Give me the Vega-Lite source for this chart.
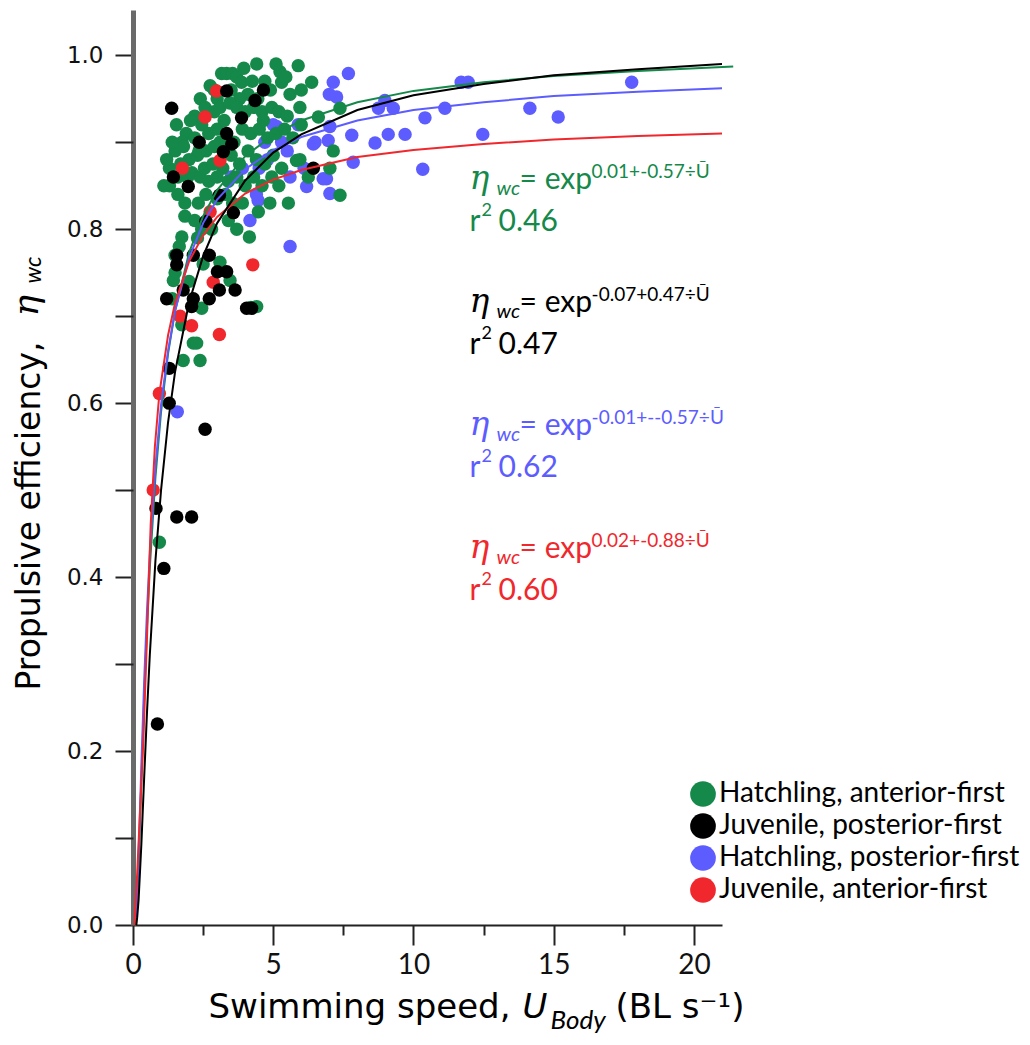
{
  "$schema": "https://vega.github.io/schema/vega-lite/v6.json",
  "autosize": "none",
  "width": 589,
  "height": 915,
  "padding": {"left": 133, "top": 10, "right": 308, "bottom": 120},
  "background": "white",
  "config": {"view": {"stroke": null}, "font": "Lato"},
  "datasets": {
    "pts": [
      {"group": "Hatchling, posterior-first", "x": 1.58, "y": 0.59},
      {"group": "Hatchling, posterior-first", "x": 4.17, "y": 0.81},
      {"group": "Hatchling, posterior-first", "x": 5.6, "y": 0.78},
      {"group": "Hatchling, posterior-first", "x": 4.46, "y": 0.833},
      {"group": "Hatchling, posterior-first", "x": 6.19, "y": 0.849},
      {"group": "Hatchling, posterior-first", "x": 7.02, "y": 0.841},
      {"group": "Hatchling, posterior-first", "x": 6.9, "y": 0.858},
      {"group": "Hatchling, posterior-first", "x": 6.78, "y": 0.858},
      {"group": "Hatchling, posterior-first", "x": 7.85, "y": 0.877},
      {"group": "Hatchling, posterior-first", "x": 5.89, "y": 0.92},
      {"group": "Hatchling, posterior-first", "x": 6.96, "y": 0.902},
      {"group": "Hatchling, posterior-first", "x": 7.8, "y": 0.908},
      {"group": "Hatchling, posterior-first", "x": 6.43, "y": 0.898},
      {"group": "Hatchling, posterior-first", "x": 6.49, "y": 0.9},
      {"group": "Hatchling, posterior-first", "x": 7.02, "y": 0.918},
      {"group": "Hatchling, posterior-first", "x": 5.12, "y": 0.918},
      {"group": "Hatchling, posterior-first", "x": 7.68, "y": 0.979},
      {"group": "Hatchling, posterior-first", "x": 7.14, "y": 0.969},
      {"group": "Hatchling, posterior-first", "x": 7.26, "y": 0.952},
      {"group": "Hatchling, posterior-first", "x": 7.0, "y": 0.955},
      {"group": "Hatchling, posterior-first", "x": 8.98, "y": 0.948},
      {"group": "Hatchling, posterior-first", "x": 8.75, "y": 0.939},
      {"group": "Hatchling, posterior-first", "x": 9.28, "y": 0.939},
      {"group": "Hatchling, posterior-first", "x": 11.12, "y": 0.939},
      {"group": "Hatchling, posterior-first", "x": 11.7, "y": 0.969},
      {"group": "Hatchling, posterior-first", "x": 11.95, "y": 0.969},
      {"group": "Hatchling, posterior-first", "x": 17.78, "y": 0.969},
      {"group": "Hatchling, posterior-first", "x": 14.15, "y": 0.939},
      {"group": "Hatchling, posterior-first", "x": 15.16, "y": 0.929},
      {"group": "Hatchling, posterior-first", "x": 10.41, "y": 0.928},
      {"group": "Hatchling, posterior-first", "x": 9.1, "y": 0.909},
      {"group": "Hatchling, posterior-first", "x": 9.7, "y": 0.909},
      {"group": "Hatchling, posterior-first", "x": 8.63, "y": 0.899},
      {"group": "Hatchling, posterior-first", "x": 12.47, "y": 0.909},
      {"group": "Hatchling, posterior-first", "x": 10.33, "y": 0.869},
      {"group": "Hatchling, posterior-first", "x": 4.5, "y": 0.87},
      {"group": "Hatchling, posterior-first", "x": 4.8, "y": 0.88},
      {"group": "Hatchling, posterior-first", "x": 5.3, "y": 0.9},
      {"group": "Hatchling, posterior-first", "x": 5.0, "y": 0.92},
      {"group": "Hatchling, posterior-first", "x": 4.7, "y": 0.9},
      {"group": "Hatchling, posterior-first", "x": 3.9, "y": 0.87},
      {"group": "Hatchling, posterior-first", "x": 4.4, "y": 0.84},
      {"group": "Hatchling, posterior-first", "x": 5.6, "y": 0.86},
      {"group": "Hatchling, posterior-first", "x": 3.5, "y": 0.86},
      {"group": "Hatchling, posterior-first", "x": 5.5, "y": 0.89},
      {"group": "Hatchling, posterior-first", "x": 6.1, "y": 0.87},
      {"group": "Hatchling, anterior-first", "x": 3.16, "y": 0.979},
      {"group": "Hatchling, anterior-first", "x": 3.34, "y": 0.979},
      {"group": "Hatchling, anterior-first", "x": 3.55, "y": 0.979},
      {"group": "Hatchling, anterior-first", "x": 3.7, "y": 0.975},
      {"group": "Hatchling, anterior-first", "x": 4.41, "y": 0.99},
      {"group": "Hatchling, anterior-first", "x": 5.24, "y": 0.981},
      {"group": "Hatchling, anterior-first", "x": 5.89, "y": 0.988},
      {"group": "Hatchling, anterior-first", "x": 5.3, "y": 0.969},
      {"group": "Hatchling, anterior-first", "x": 3.87, "y": 0.969},
      {"group": "Hatchling, anterior-first", "x": 6.37, "y": 0.969},
      {"group": "Hatchling, anterior-first", "x": 2.9, "y": 0.96},
      {"group": "Hatchling, anterior-first", "x": 4.1, "y": 0.955},
      {"group": "Hatchling, anterior-first", "x": 4.9, "y": 0.96},
      {"group": "Hatchling, anterior-first", "x": 5.6, "y": 0.955},
      {"group": "Hatchling, anterior-first", "x": 3.0, "y": 0.95},
      {"group": "Hatchling, anterior-first", "x": 4.45, "y": 0.95},
      {"group": "Hatchling, anterior-first", "x": 2.4, "y": 0.95},
      {"group": "Hatchling, anterior-first", "x": 2.75, "y": 0.965},
      {"group": "Hatchling, anterior-first", "x": 3.5, "y": 0.96},
      {"group": "Hatchling, anterior-first", "x": 3.95, "y": 0.985},
      {"group": "Hatchling, anterior-first", "x": 4.7, "y": 0.97},
      {"group": "Hatchling, anterior-first", "x": 5.1, "y": 0.99},
      {"group": "Hatchling, anterior-first", "x": 5.45, "y": 0.975},
      {"group": "Hatchling, anterior-first", "x": 6.0, "y": 0.96},
      {"group": "Hatchling, anterior-first", "x": 4.25, "y": 0.97},
      {"group": "Hatchling, anterior-first", "x": 3.8, "y": 0.95},
      {"group": "Hatchling, anterior-first", "x": 2.57, "y": 0.94},
      {"group": "Hatchling, anterior-first", "x": 2.2, "y": 0.93},
      {"group": "Hatchling, anterior-first", "x": 2.45, "y": 0.92},
      {"group": "Hatchling, anterior-first", "x": 2.9, "y": 0.935},
      {"group": "Hatchling, anterior-first", "x": 3.1, "y": 0.94},
      {"group": "Hatchling, anterior-first", "x": 3.45, "y": 0.945},
      {"group": "Hatchling, anterior-first", "x": 3.7, "y": 0.94},
      {"group": "Hatchling, anterior-first", "x": 4.0, "y": 0.935},
      {"group": "Hatchling, anterior-first", "x": 4.3, "y": 0.94},
      {"group": "Hatchling, anterior-first", "x": 4.6, "y": 0.935},
      {"group": "Hatchling, anterior-first", "x": 4.95, "y": 0.94},
      {"group": "Hatchling, anterior-first", "x": 5.2, "y": 0.935},
      {"group": "Hatchling, anterior-first", "x": 5.5, "y": 0.93},
      {"group": "Hatchling, anterior-first", "x": 5.95, "y": 0.94},
      {"group": "Hatchling, anterior-first", "x": 6.61, "y": 0.929},
      {"group": "Hatchling, anterior-first", "x": 7.38, "y": 0.939},
      {"group": "Hatchling, anterior-first", "x": 1.9, "y": 0.91},
      {"group": "Hatchling, anterior-first", "x": 2.2, "y": 0.905},
      {"group": "Hatchling, anterior-first", "x": 2.7, "y": 0.91},
      {"group": "Hatchling, anterior-first", "x": 3.0, "y": 0.915},
      {"group": "Hatchling, anterior-first", "x": 3.9, "y": 0.915},
      {"group": "Hatchling, anterior-first", "x": 4.2, "y": 0.91},
      {"group": "Hatchling, anterior-first", "x": 4.5, "y": 0.915},
      {"group": "Hatchling, anterior-first", "x": 4.8, "y": 0.905},
      {"group": "Hatchling, anterior-first", "x": 5.1, "y": 0.91},
      {"group": "Hatchling, anterior-first", "x": 5.4, "y": 0.915},
      {"group": "Hatchling, anterior-first", "x": 5.7, "y": 0.905},
      {"group": "Hatchling, anterior-first", "x": 6.0, "y": 0.92},
      {"group": "Hatchling, anterior-first", "x": 2.05, "y": 0.925},
      {"group": "Hatchling, anterior-first", "x": 1.75, "y": 0.9},
      {"group": "Hatchling, anterior-first", "x": 4.65, "y": 0.925},
      {"group": "Hatchling, anterior-first", "x": 3.25, "y": 0.925},
      {"group": "Hatchling, anterior-first", "x": 1.55, "y": 0.92},
      {"group": "Hatchling, anterior-first", "x": 3.6, "y": 0.9},
      {"group": "Hatchling, anterior-first", "x": 3.1, "y": 0.9},
      {"group": "Hatchling, anterior-first", "x": 1.5, "y": 0.89},
      {"group": "Hatchling, anterior-first", "x": 1.8, "y": 0.895},
      {"group": "Hatchling, anterior-first", "x": 2.0, "y": 0.88},
      {"group": "Hatchling, anterior-first", "x": 2.3, "y": 0.885},
      {"group": "Hatchling, anterior-first", "x": 2.6, "y": 0.89},
      {"group": "Hatchling, anterior-first", "x": 2.9, "y": 0.895},
      {"group": "Hatchling, anterior-first", "x": 3.2, "y": 0.87},
      {"group": "Hatchling, anterior-first", "x": 3.5, "y": 0.885},
      {"group": "Hatchling, anterior-first", "x": 3.8, "y": 0.875},
      {"group": "Hatchling, anterior-first", "x": 4.1, "y": 0.89},
      {"group": "Hatchling, anterior-first", "x": 4.4, "y": 0.88},
      {"group": "Hatchling, anterior-first", "x": 4.7, "y": 0.875},
      {"group": "Hatchling, anterior-first", "x": 5.0, "y": 0.885},
      {"group": "Hatchling, anterior-first", "x": 5.3, "y": 0.87},
      {"group": "Hatchling, anterior-first", "x": 5.95, "y": 0.88},
      {"group": "Hatchling, anterior-first", "x": 7.14, "y": 0.89},
      {"group": "Hatchling, anterior-first", "x": 1.3, "y": 0.87},
      {"group": "Hatchling, anterior-first", "x": 1.6, "y": 0.86},
      {"group": "Hatchling, anterior-first", "x": 1.7, "y": 0.875},
      {"group": "Hatchling, anterior-first", "x": 1.95, "y": 0.86},
      {"group": "Hatchling, anterior-first", "x": 2.1, "y": 0.865},
      {"group": "Hatchling, anterior-first", "x": 2.35, "y": 0.89},
      {"group": "Hatchling, anterior-first", "x": 2.4, "y": 0.86},
      {"group": "Hatchling, anterior-first", "x": 2.55, "y": 0.87},
      {"group": "Hatchling, anterior-first", "x": 2.7, "y": 0.855},
      {"group": "Hatchling, anterior-first", "x": 2.85, "y": 0.875},
      {"group": "Hatchling, anterior-first", "x": 3.0, "y": 0.86},
      {"group": "Hatchling, anterior-first", "x": 3.4, "y": 0.855},
      {"group": "Hatchling, anterior-first", "x": 3.7, "y": 0.86},
      {"group": "Hatchling, anterior-first", "x": 4.0, "y": 0.85},
      {"group": "Hatchling, anterior-first", "x": 4.3, "y": 0.86},
      {"group": "Hatchling, anterior-first", "x": 4.6, "y": 0.85},
      {"group": "Hatchling, anterior-first", "x": 4.95, "y": 0.86},
      {"group": "Hatchling, anterior-first", "x": 5.2, "y": 0.85},
      {"group": "Hatchling, anterior-first", "x": 6.25, "y": 0.86},
      {"group": "Hatchling, anterior-first", "x": 7.02, "y": 0.87},
      {"group": "Hatchling, anterior-first", "x": 7.38, "y": 0.839},
      {"group": "Hatchling, anterior-first", "x": 5.83, "y": 0.879},
      {"group": "Hatchling, anterior-first", "x": 1.2, "y": 0.88},
      {"group": "Hatchling, anterior-first", "x": 1.4, "y": 0.9},
      {"group": "Hatchling, anterior-first", "x": 1.3, "y": 0.85},
      {"group": "Hatchling, anterior-first", "x": 1.6, "y": 0.84},
      {"group": "Hatchling, anterior-first", "x": 1.85, "y": 0.83},
      {"group": "Hatchling, anterior-first", "x": 2.33, "y": 0.83},
      {"group": "Hatchling, anterior-first", "x": 2.6, "y": 0.84},
      {"group": "Hatchling, anterior-first", "x": 3.0, "y": 0.835},
      {"group": "Hatchling, anterior-first", "x": 3.3, "y": 0.84},
      {"group": "Hatchling, anterior-first", "x": 3.55, "y": 0.83},
      {"group": "Hatchling, anterior-first", "x": 3.9, "y": 0.83},
      {"group": "Hatchling, anterior-first", "x": 4.47, "y": 0.82},
      {"group": "Hatchling, anterior-first", "x": 4.88, "y": 0.83},
      {"group": "Hatchling, anterior-first", "x": 5.54, "y": 0.83},
      {"group": "Hatchling, anterior-first", "x": 1.85, "y": 0.815},
      {"group": "Hatchling, anterior-first", "x": 2.2, "y": 0.81},
      {"group": "Hatchling, anterior-first", "x": 3.4, "y": 0.81},
      {"group": "Hatchling, anterior-first", "x": 2.8, "y": 0.8},
      {"group": "Hatchling, anterior-first", "x": 2.45, "y": 0.8},
      {"group": "Hatchling, anterior-first", "x": 3.7, "y": 0.8},
      {"group": "Hatchling, anterior-first", "x": 1.1, "y": 0.85},
      {"group": "Hatchling, anterior-first", "x": 1.74, "y": 0.791},
      {"group": "Hatchling, anterior-first", "x": 4.15, "y": 0.791},
      {"group": "Hatchling, anterior-first", "x": 1.5, "y": 0.77},
      {"group": "Hatchling, anterior-first", "x": 1.5, "y": 0.75},
      {"group": "Hatchling, anterior-first", "x": 1.44, "y": 0.741},
      {"group": "Hatchling, anterior-first", "x": 3.1, "y": 0.762},
      {"group": "Hatchling, anterior-first", "x": 3.46, "y": 0.741},
      {"group": "Hatchling, anterior-first", "x": 4.41, "y": 0.711},
      {"group": "Hatchling, anterior-first", "x": 2.45, "y": 0.709},
      {"group": "Hatchling, anterior-first", "x": 1.74, "y": 0.69},
      {"group": "Hatchling, anterior-first", "x": 2.15, "y": 0.669},
      {"group": "Hatchling, anterior-first", "x": 2.27, "y": 0.669},
      {"group": "Hatchling, anterior-first", "x": 1.79, "y": 0.649},
      {"group": "Hatchling, anterior-first", "x": 2.39, "y": 0.649},
      {"group": "Hatchling, anterior-first", "x": 2.0, "y": 0.74},
      {"group": "Hatchling, anterior-first", "x": 2.5, "y": 0.76},
      {"group": "Hatchling, anterior-first", "x": 1.4, "y": 0.72},
      {"group": "Hatchling, anterior-first", "x": 4.2, "y": 0.71},
      {"group": "Hatchling, anterior-first", "x": 1.65, "y": 0.78},
      {"group": "Hatchling, anterior-first", "x": 2.3, "y": 0.79},
      {"group": "Hatchling, anterior-first", "x": 0.94, "y": 0.44},
      {"group": "Juvenile, anterior-first", "x": 2.98, "y": 0.959},
      {"group": "Juvenile, anterior-first", "x": 2.57, "y": 0.929},
      {"group": "Juvenile, anterior-first", "x": 3.1, "y": 0.879},
      {"group": "Juvenile, anterior-first", "x": 1.76, "y": 0.87},
      {"group": "Juvenile, anterior-first", "x": 2.75, "y": 0.82},
      {"group": "Juvenile, anterior-first", "x": 4.27, "y": 0.759},
      {"group": "Juvenile, anterior-first", "x": 2.86, "y": 0.739},
      {"group": "Juvenile, anterior-first", "x": 1.68, "y": 0.7},
      {"group": "Juvenile, anterior-first", "x": 2.09, "y": 0.689},
      {"group": "Juvenile, anterior-first", "x": 3.08, "y": 0.679},
      {"group": "Juvenile, anterior-first", "x": 0.94, "y": 0.611},
      {"group": "Juvenile, anterior-first", "x": 0.72, "y": 0.5},
      {"group": "Juvenile, posterior-first", "x": 1.38, "y": 0.939},
      {"group": "Juvenile, posterior-first", "x": 3.34, "y": 0.959},
      {"group": "Juvenile, posterior-first", "x": 4.65, "y": 0.96},
      {"group": "Juvenile, posterior-first", "x": 4.35, "y": 0.948},
      {"group": "Juvenile, posterior-first", "x": 3.87, "y": 0.928},
      {"group": "Juvenile, posterior-first", "x": 3.34, "y": 0.91},
      {"group": "Juvenile, posterior-first", "x": 3.52, "y": 0.898},
      {"group": "Juvenile, posterior-first", "x": 3.22, "y": 0.889},
      {"group": "Juvenile, posterior-first", "x": 2.36, "y": 0.9},
      {"group": "Juvenile, posterior-first", "x": 6.43, "y": 0.87},
      {"group": "Juvenile, posterior-first", "x": 1.44, "y": 0.86},
      {"group": "Juvenile, posterior-first", "x": 1.97, "y": 0.849},
      {"group": "Juvenile, posterior-first", "x": 3.08, "y": 0.839},
      {"group": "Juvenile, posterior-first", "x": 3.58, "y": 0.819},
      {"group": "Juvenile, posterior-first", "x": 2.6, "y": 0.809},
      {"group": "Juvenile, posterior-first", "x": 1.56, "y": 0.77},
      {"group": "Juvenile, posterior-first", "x": 1.56, "y": 0.759},
      {"group": "Juvenile, posterior-first", "x": 2.15, "y": 0.77},
      {"group": "Juvenile, posterior-first", "x": 2.72, "y": 0.77},
      {"group": "Juvenile, posterior-first", "x": 3.01, "y": 0.751},
      {"group": "Juvenile, posterior-first", "x": 3.34, "y": 0.751},
      {"group": "Juvenile, posterior-first", "x": 1.79, "y": 0.73},
      {"group": "Juvenile, posterior-first", "x": 1.2, "y": 0.72},
      {"group": "Juvenile, posterior-first", "x": 2.15, "y": 0.72},
      {"group": "Juvenile, posterior-first", "x": 2.09, "y": 0.711},
      {"group": "Juvenile, posterior-first", "x": 2.72, "y": 0.72},
      {"group": "Juvenile, posterior-first", "x": 3.08, "y": 0.73},
      {"group": "Juvenile, posterior-first", "x": 3.64, "y": 0.73},
      {"group": "Juvenile, posterior-first", "x": 4.05, "y": 0.709},
      {"group": "Juvenile, posterior-first", "x": 4.23, "y": 0.709},
      {"group": "Juvenile, posterior-first", "x": 1.29, "y": 0.64},
      {"group": "Juvenile, posterior-first", "x": 1.29, "y": 0.6},
      {"group": "Juvenile, posterior-first", "x": 2.57, "y": 0.57},
      {"group": "Juvenile, posterior-first", "x": 0.82, "y": 0.479},
      {"group": "Juvenile, posterior-first", "x": 1.56, "y": 0.469},
      {"group": "Juvenile, posterior-first", "x": 2.09, "y": 0.469},
      {"group": "Juvenile, posterior-first", "x": 1.1, "y": 0.41},
      {"group": "Juvenile, posterior-first", "x": 0.87, "y": 0.231}
    ],
    "curves": [
      {"group": "Hatchling, anterior-first", "x": 0.1, "y": 0.005},
      {"group": "Hatchling, anterior-first", "x": 0.15, "y": 0.028},
      {"group": "Hatchling, anterior-first", "x": 0.2, "y": 0.068},
      {"group": "Hatchling, anterior-first", "x": 0.3, "y": 0.167},
      {"group": "Hatchling, anterior-first", "x": 0.4, "y": 0.262},
      {"group": "Hatchling, anterior-first", "x": 0.5, "y": 0.344},
      {"group": "Hatchling, anterior-first", "x": 0.6, "y": 0.411},
      {"group": "Hatchling, anterior-first", "x": 0.8, "y": 0.515},
      {"group": "Hatchling, anterior-first", "x": 1.0, "y": 0.59},
      {"group": "Hatchling, anterior-first", "x": 1.25, "y": 0.657},
      {"group": "Hatchling, anterior-first", "x": 1.5, "y": 0.706},
      {"group": "Hatchling, anterior-first", "x": 2.0, "y": 0.773},
      {"group": "Hatchling, anterior-first", "x": 2.5, "y": 0.815},
      {"group": "Hatchling, anterior-first", "x": 3.0, "y": 0.845},
      {"group": "Hatchling, anterior-first", "x": 4.0, "y": 0.884},
      {"group": "Hatchling, anterior-first", "x": 5.0, "y": 0.908},
      {"group": "Hatchling, anterior-first", "x": 6.0, "y": 0.925},
      {"group": "Hatchling, anterior-first", "x": 8.0, "y": 0.946},
      {"group": "Hatchling, anterior-first", "x": 10.0, "y": 0.959},
      {"group": "Hatchling, anterior-first", "x": 12.5, "y": 0.969},
      {"group": "Hatchling, anterior-first", "x": 15.0, "y": 0.976},
      {"group": "Hatchling, anterior-first", "x": 18.0, "y": 0.982},
      {"group": "Hatchling, anterior-first", "x": 21.4, "y": 0.987},
      {"group": "Hatchling, posterior-first", "x": 0.1, "y": 0.007},
      {"group": "Hatchling, posterior-first", "x": 0.15, "y": 0.035},
      {"group": "Hatchling, posterior-first", "x": 0.2, "y": 0.081},
      {"group": "Hatchling, posterior-first", "x": 0.3, "y": 0.186},
      {"group": "Hatchling, posterior-first", "x": 0.4, "y": 0.282},
      {"group": "Hatchling, posterior-first", "x": 0.5, "y": 0.362},
      {"group": "Hatchling, posterior-first", "x": 0.6, "y": 0.428},
      {"group": "Hatchling, posterior-first", "x": 0.8, "y": 0.527},
      {"group": "Hatchling, posterior-first", "x": 1.0, "y": 0.598},
      {"group": "Hatchling, posterior-first", "x": 1.25, "y": 0.66},
      {"group": "Hatchling, posterior-first", "x": 1.5, "y": 0.706},
      {"group": "Hatchling, posterior-first", "x": 2.0, "y": 0.767},
      {"group": "Hatchling, posterior-first", "x": 2.5, "y": 0.807},
      {"group": "Hatchling, posterior-first", "x": 3.0, "y": 0.834},
      {"group": "Hatchling, posterior-first", "x": 4.0, "y": 0.869},
      {"group": "Hatchling, posterior-first", "x": 5.0, "y": 0.891},
      {"group": "Hatchling, posterior-first", "x": 6.0, "y": 0.906},
      {"group": "Hatchling, posterior-first", "x": 8.0, "y": 0.925},
      {"group": "Hatchling, posterior-first", "x": 10.0, "y": 0.937},
      {"group": "Hatchling, posterior-first", "x": 12.5, "y": 0.946},
      {"group": "Hatchling, posterior-first", "x": 15.0, "y": 0.953},
      {"group": "Hatchling, posterior-first", "x": 18.0, "y": 0.958},
      {"group": "Hatchling, posterior-first", "x": 21.0, "y": 0.962},
      {"group": "Juvenile, anterior-first", "x": 0.05, "y": 0.0},
      {"group": "Juvenile, anterior-first", "x": 0.15, "y": 0.06},
      {"group": "Juvenile, anterior-first", "x": 0.25, "y": 0.13},
      {"group": "Juvenile, anterior-first", "x": 0.37, "y": 0.213},
      {"group": "Juvenile, anterior-first", "x": 0.52, "y": 0.35},
      {"group": "Juvenile, anterior-first", "x": 0.63, "y": 0.46},
      {"group": "Juvenile, anterior-first", "x": 0.78, "y": 0.55},
      {"group": "Juvenile, anterior-first", "x": 0.94, "y": 0.611},
      {"group": "Juvenile, anterior-first", "x": 1.25, "y": 0.678},
      {"group": "Juvenile, anterior-first", "x": 1.5, "y": 0.715},
      {"group": "Juvenile, anterior-first", "x": 2.0, "y": 0.763},
      {"group": "Juvenile, anterior-first", "x": 2.5, "y": 0.793},
      {"group": "Juvenile, anterior-first", "x": 3.0, "y": 0.814},
      {"group": "Juvenile, anterior-first", "x": 4.0, "y": 0.841},
      {"group": "Juvenile, anterior-first", "x": 5.0, "y": 0.857},
      {"group": "Juvenile, anterior-first", "x": 6.0, "y": 0.868},
      {"group": "Juvenile, anterior-first", "x": 8.0, "y": 0.883},
      {"group": "Juvenile, anterior-first", "x": 10.0, "y": 0.891},
      {"group": "Juvenile, anterior-first", "x": 12.5, "y": 0.898},
      {"group": "Juvenile, anterior-first", "x": 15.0, "y": 0.903},
      {"group": "Juvenile, anterior-first", "x": 18.0, "y": 0.907},
      {"group": "Juvenile, anterior-first", "x": 21.0, "y": 0.91},
      {"group": "Juvenile, posterior-first", "x": 0.12, "y": 0.0},
      {"group": "Juvenile, posterior-first", "x": 0.15, "y": 0.009},
      {"group": "Juvenile, posterior-first", "x": 0.2, "y": 0.029},
      {"group": "Juvenile, posterior-first", "x": 0.3, "y": 0.094},
      {"group": "Juvenile, posterior-first", "x": 0.4, "y": 0.171},
      {"group": "Juvenile, posterior-first", "x": 0.5, "y": 0.245},
      {"group": "Juvenile, posterior-first", "x": 0.6, "y": 0.311},
      {"group": "Juvenile, posterior-first", "x": 0.8, "y": 0.419},
      {"group": "Juvenile, posterior-first", "x": 1.0, "y": 0.5},
      {"group": "Juvenile, posterior-first", "x": 1.25, "y": 0.578},
      {"group": "Juvenile, posterior-first", "x": 1.5, "y": 0.636},
      {"group": "Juvenile, posterior-first", "x": 2.0, "y": 0.716},
      {"group": "Juvenile, posterior-first", "x": 2.5, "y": 0.769},
      {"group": "Juvenile, posterior-first", "x": 3.0, "y": 0.807},
      {"group": "Juvenile, posterior-first", "x": 4.0, "y": 0.856},
      {"group": "Juvenile, posterior-first", "x": 5.0, "y": 0.888},
      {"group": "Juvenile, posterior-first", "x": 6.0, "y": 0.909},
      {"group": "Juvenile, posterior-first", "x": 8.0, "y": 0.937},
      {"group": "Juvenile, posterior-first", "x": 10.0, "y": 0.954},
      {"group": "Juvenile, posterior-first", "x": 12.5, "y": 0.967},
      {"group": "Juvenile, posterior-first", "x": 15.0, "y": 0.977},
      {"group": "Juvenile, posterior-first", "x": 18.0, "y": 0.984},
      {"group": "Juvenile, posterior-first", "x": 21.0, "y": 0.99}
    ],
    "eq": [
      {"group": "Hatchling, anterior-first", "x": 12.0, "y": 0.846, "sup": "0.01+-0.57÷Ū", "r2": "0.46"},
      {"group": "Juvenile, posterior-first", "x": 12.0, "y": 0.7046, "sup": "-0.07+0.47÷Ū", "r2": "0.47"},
      {"group": "Hatchling, posterior-first", "x": 12.0, "y": 0.5632, "sup": "-0.01+--0.57÷Ū", "r2": "0.62"},
      {"group": "Juvenile, anterior-first", "x": 12.0, "y": 0.4218, "sup": "0.02+-0.88÷Ū", "r2": "0.60"}
    ]
  },
  "resolve": {"axis": {"x": "independent", "y": "independent"}},
  "layer": [
    {
      "data": {"name": "pts"},
      "mark": {"type": "point", "filled": true, "size": 180, "opacity": 1, "strokeWidth": 0},
      "encoding": {
        "x": {"field": "x", "type": "quantitative",
          "scale": {"domain": [0, 21], "nice": false, "zero": false},
          "axis": {"orient": "bottom", "values": [0, 5, 10, 15, 20], "grid": false, "labelFlush": false,
            "tickSize": 20, "tickWidth": 2, "tickColor": "#222", "domainColor": "#222", "domainWidth": 2,
            "labelFont": "Lato", "labelFontSize": 28, "labelColor": "#111", "labelPadding": 6,
            "title": "Swimming speed, ", "titleFont": "DejaVu Sans", "titleFontSize": 34, "titleFontWeight": "normal", "titleColor": "#000",
            "titleAlign": "left", "titleBaseline": "alphabetic", "titleX": 75, "titleY": 92}},
        "y": {"field": "y", "type": "quantitative",
          "scale": {"domain": [0, 1.052], "nice": false, "zero": false},
          "axis": {"orient": "left", "values": [0, 0.2, 0.4, 0.6, 0.8, 1.0], "format": ".1f", "grid": false, "labelFlush": false,
            "tickSize": 18, "tickWidth": 2, "tickColor": "#222", "domainColor": "#6a6a6a", "domainWidth": 5,
            "labelFont": "DejaVu Sans", "labelFontSize": 23, "labelColor": "#111", "labelPadding": 12,
            "title": "Propulsive efficiency, ", "titleFont": "DejaVu Sans", "titleFontSize": 33, "titleFontWeight": "normal", "titleColor": "#000",
            "titleAngle": 270, "titleAlign": "left", "titleBaseline": "alphabetic", "titleX": -94, "titleY": 680}},
        "color": {"field": "group", "type": "nominal",
          "scale": {"domain": ["Hatchling, anterior-first", "Juvenile, posterior-first", "Hatchling, posterior-first", "Juvenile, anterior-first"],
                    "range": ["#14894a", "#000000", "#5c5cff", "#f0282d"]},
          "legend": {"orient": "none", "legendX": 556, "legendY": 770, "title": null, "symbolType": "circle", "symbolSize": 660,
            "symbolStrokeWidth": 0, "labelFont": "Lato", "labelFontSize": 28, "labelColor": "#000", "rowPadding": 4,
            "labelOffset": 2, "padding": 0, "labelLimit": 400}}
      }
    },
    {
      "data": {"name": "curves"},
      "mark": {"type": "line", "strokeWidth": 2},
      "encoding": {
        "x": {"field": "x", "type": "quantitative",
          "axis": {"orient": "bottom", "values": [2.5, 7.5, 12.5, 17.5], "grid": false, "domain": false, "labels": false,
            "tickSize": 10, "tickWidth": 2, "tickColor": "#222",
            "title": "U", "titleFont": "DejaVu Sans", "titleFontStyle": "italic", "titleFontSize": 34, "titleFontWeight": "normal", "titleColor": "#000",
            "titleAlign": "left", "titleBaseline": "alphabetic", "titleX": 389, "titleY": 92}},
        "y": {"field": "y", "type": "quantitative",
          "axis": {"orient": "left", "values": [0.1, 0.3, 0.5, 0.7, 0.9], "grid": false, "domain": false, "labels": false,
            "tickSize": 18, "tickWidth": 2, "tickColor": "#222",
            "title": "η", "titleFont": "DejaVu Serif", "titleFontStyle": "italic", "titleFontSize": 36, "titleFontWeight": "normal", "titleColor": "#000",
            "titleAngle": 270, "titleAlign": "left", "titleBaseline": "alphabetic", "titleX": -96, "titleY": 306}},
        "color": {"field": "group", "type": "nominal", "legend": null},
        "detail": {"field": "group"}
      }
    },
    {
      "data": {"name": "eq"},
      "mark": {"type": "text", "text": "η", "font": "DejaVu Serif", "fontStyle": "italic", "fontSize": 33, "align": "left", "baseline": "alphabetic"},
      "encoding": {
        "x": {"field": "x", "type": "quantitative",
          "axis": {"orient": "bottom", "grid": false, "domain": false, "labels": false, "ticks": false,
            "title": "Body", "titleFont": "Lato", "titleFontStyle": "italic", "titleFontSize": 26, "titleFontWeight": "normal", "titleColor": "#000",
            "titleAlign": "left", "titleBaseline": "alphabetic", "titleX": 417, "titleY": 103}},
        "y": {"field": "y", "type": "quantitative",
          "axis": {"orient": "left", "grid": false, "domain": false, "labels": false, "ticks": false,
            "title": "wc", "titleFont": "Lato", "titleFontStyle": "italic", "titleFontSize": 23, "titleFontWeight": "normal", "titleColor": "#000",
            "titleAngle": 270, "titleAlign": "left", "titleBaseline": "alphabetic", "titleX": -93, "titleY": 273}},
        "color": {"field": "group", "type": "nominal", "legend": null}
      }
    },
    {
      "data": {"name": "eq"},
      "mark": {"type": "text", "text": "wc", "font": "Lato", "fontStyle": "italic", "fontSize": 20, "align": "left", "baseline": "alphabetic", "dx": 27, "dy": 6},
      "encoding": {
        "x": {"field": "x", "type": "quantitative",
          "axis": {"orient": "bottom", "grid": false, "domain": false, "labels": false, "ticks": false,
            "title": "(BL s⁻¹)", "titleFont": "DejaVu Sans", "titleFontSize": 34, "titleFontWeight": "normal", "titleColor": "#000",
            "titleAlign": "left", "titleBaseline": "alphabetic", "titleX": 482, "titleY": 92}},
        "y": {"field": "y", "type": "quantitative", "axis": null},
        "color": {"field": "group", "type": "nominal", "legend": null}
      }
    },
    {
      "data": {"name": "eq"},
      "mark": {"type": "text", "text": "= exp", "font": "Lato", "fontSize": 30, "align": "left", "baseline": "alphabetic", "dx": 50},
      "encoding": {
        "x": {"field": "x", "type": "quantitative", "axis": null},
        "y": {"field": "y", "type": "quantitative", "axis": null},
        "color": {"field": "group", "type": "nominal", "legend": null}
      }
    },
    {
      "data": {"name": "eq"},
      "mark": {"type": "text", "font": "Lato", "fontSize": 19, "align": "left", "baseline": "alphabetic", "dx": 122, "dy": -11},
      "encoding": {
        "x": {"field": "x", "type": "quantitative", "axis": null},
        "y": {"field": "y", "type": "quantitative", "axis": null},
        "text": {"field": "sup"},
        "color": {"field": "group", "type": "nominal", "legend": null}
      }
    },
    {
      "data": {"name": "eq"},
      "mark": {"type": "text", "text": "r", "font": "Lato", "fontSize": 30, "align": "left", "baseline": "alphabetic", "dy": 42},
      "encoding": {
        "x": {"field": "x", "type": "quantitative", "axis": null},
        "y": {"field": "y", "type": "quantitative", "axis": null},
        "color": {"field": "group", "type": "nominal", "legend": null}
      }
    },
    {
      "data": {"name": "eq"},
      "mark": {"type": "text", "text": "2", "font": "Lato", "fontSize": 18, "align": "left", "baseline": "alphabetic", "dx": 12, "dy": 27},
      "encoding": {
        "x": {"field": "x", "type": "quantitative", "axis": null},
        "y": {"field": "y", "type": "quantitative", "axis": null},
        "color": {"field": "group", "type": "nominal", "legend": null}
      }
    },
    {
      "data": {"name": "eq"},
      "mark": {"type": "text", "font": "Lato", "fontSize": 30, "align": "left", "baseline": "alphabetic", "dx": 29, "dy": 42},
      "encoding": {
        "x": {"field": "x", "type": "quantitative", "axis": null},
        "y": {"field": "y", "type": "quantitative", "axis": null},
        "text": {"field": "r2"},
        "color": {"field": "group", "type": "nominal", "legend": null}
      }
    }
  ]
}
